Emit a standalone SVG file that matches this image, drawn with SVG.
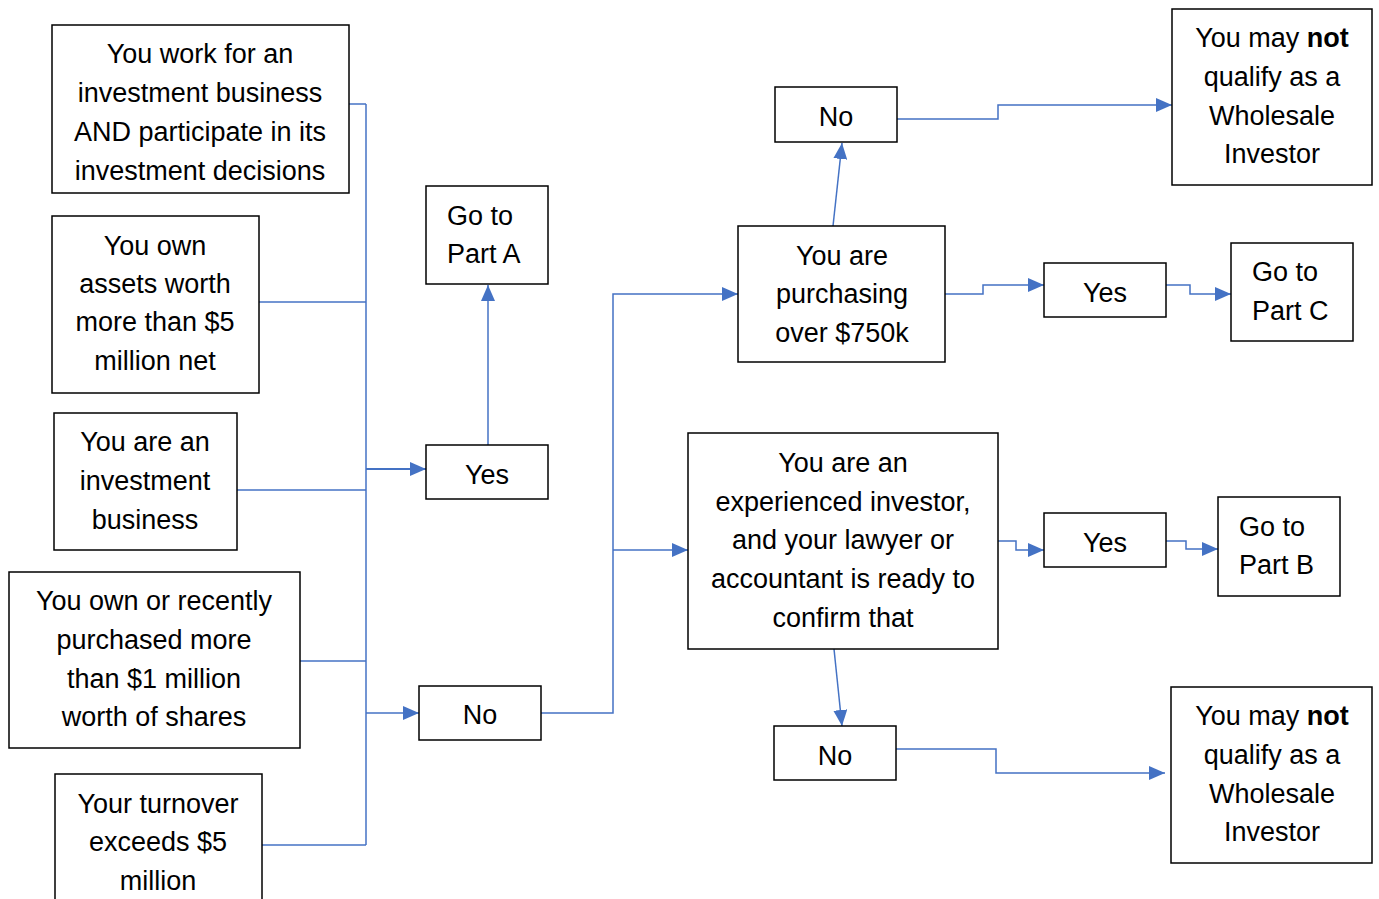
<svg xmlns="http://www.w3.org/2000/svg" width="1379" height="899" viewBox="0 0 1379 899">
<style>
.b{fill:#fff;stroke:#000;stroke-width:1.5}
.t{font-family:"Liberation Sans",Arial,sans-serif;font-size:27px;fill:#000;text-anchor:middle}
.s{text-anchor:start}
.c{fill:none;stroke:#4472C4;stroke-width:1.5}
</style>
<defs>
<marker id="a" viewBox="0 0 16 14" refX="16" refY="7" markerWidth="16" markerHeight="14" markerUnits="userSpaceOnUse" orient="auto">
<path d="M0,0L16,7L0,14z" fill="#4472C4"/>
</marker>
</defs>
<rect width="1379" height="899" fill="#fff"/>
<g id="connectors">
<path class="c" d="M366,104V845"/>
<path class="c" d="M349,104H366"/>
<path class="c" d="M259,302H366"/>
<path class="c" d="M237,490H366"/>
<path class="c" d="M300,661H366"/>
<path class="c" d="M262,845H366"/>
<path class="c" d="M366,469H426" marker-end="url(#a)" style="stroke-width:2"/>
<path class="c" d="M366,713H419" marker-end="url(#a)"/>
<path class="c" d="M488,445V285" marker-end="url(#a)"/>
<path class="c" d="M541,713H613V294H738" marker-end="url(#a)"/>
<path class="c" d="M613,550H688" marker-end="url(#a)"/>
<path class="c" d="M833,226L842,143" marker-end="url(#a)"/>
<path class="c" d="M897,119H998V105H1172" marker-end="url(#a)"/>
<path class="c" d="M945,294H983V285H1044" marker-end="url(#a)"/>
<path class="c" d="M1166,285H1190V294H1231" marker-end="url(#a)"/>
<path class="c" d="M998,541H1016V550H1044" marker-end="url(#a)"/>
<path class="c" d="M1166,541H1186V549H1218" marker-end="url(#a)"/>
<path class="c" d="M834,649L842,726" marker-end="url(#a)"/>
<path class="c" d="M896,749H996V773H1165" marker-end="url(#a)"/>
</g>
<g id="n1"><rect class="b" x="52" y="25" width="297" height="168"/>
<text class="t" x="200" y="63">You work for an</text><text class="t" x="200" y="102">investment business</text><text class="t" x="200" y="141">AND participate in its</text><text class="t" x="200" y="180">investment decisions</text></g>
<g id="n2"><rect class="b" x="52" y="216" width="207" height="177"/>
<text class="t" x="155" y="255">You own</text><text class="t" x="155" y="293">assets worth</text><text class="t" x="155" y="331">more than $5</text><text class="t" x="155" y="370">million net</text></g>
<g id="n3"><rect class="b" x="54" y="413" width="183" height="137"/>
<text class="t" x="145" y="451">You are an</text><text class="t" x="145" y="490">investment</text><text class="t" x="145" y="529">business</text></g>
<g id="n4"><rect class="b" x="9" y="572" width="291" height="176"/>
<text class="t" x="154" y="610">You own or recently</text><text class="t" x="154" y="649">purchased more</text><text class="t" x="154" y="688">than $1 million</text><text class="t" x="154" y="726">worth of shares</text></g>
<g id="n5"><rect class="b" x="55" y="774" width="207" height="140"/>
<text class="t" x="158" y="813">Your turnover</text><text class="t" x="158" y="851">exceeds $5</text><text class="t" x="158" y="890">million</text></g>
<g id="n6"><rect class="b" x="426" y="186" width="122" height="98"/>
<text class="t s" x="447" y="225">Go to</text><text class="t s" x="447" y="263">Part A</text></g>
<g id="n7"><rect class="b" x="426" y="445" width="122" height="54"/>
<text class="t" x="487" y="484">Yes</text></g>
<g id="n8"><rect class="b" x="419" y="686" width="122" height="54"/>
<text class="t" x="480" y="724">No</text></g>
<g id="n9"><rect class="b" x="738" y="226" width="207" height="136"/>
<text class="t" x="842" y="265">You are</text><text class="t" x="842" y="303">purchasing</text><text class="t" x="842" y="342">over $750k</text></g>
<g id="n10"><rect class="b" x="775" y="87" width="122" height="55"/>
<text class="t" x="836" y="126">No</text></g>
<g id="n11"><rect class="b" x="1172" y="9" width="200" height="176"/>
<text class="t" x="1272" y="47">You may <tspan font-weight="bold">not</tspan></text><text class="t" x="1272" y="86">qualify as a</text><text class="t" x="1272" y="125">Wholesale</text><text class="t" x="1272" y="163">Investor</text></g>
<g id="n12"><rect class="b" x="1044" y="263" width="122" height="54"/>
<text class="t" x="1105" y="302">Yes</text></g>
<g id="n13"><rect class="b" x="1231" y="243" width="122" height="98"/>
<text class="t s" x="1252" y="281">Go to</text><text class="t s" x="1252" y="320">Part C</text></g>
<g id="n14"><rect class="b" x="688" y="433" width="310" height="216"/>
<text class="t" x="843" y="472">You are an</text><text class="t" x="843" y="511">experienced investor,</text><text class="t" x="843" y="549">and your lawyer or</text><text class="t" x="843" y="588">accountant is ready to</text><text class="t" x="843" y="627">confirm that</text></g>
<g id="n15"><rect class="b" x="1044" y="513" width="122" height="54"/>
<text class="t" x="1105" y="552">Yes</text></g>
<g id="n16"><rect class="b" x="1218" y="497" width="122" height="99"/>
<text class="t s" x="1239" y="536">Go to</text><text class="t s" x="1239" y="574">Part B</text></g>
<g id="n17"><rect class="b" x="774" y="726" width="122" height="54"/>
<text class="t" x="835" y="765">No</text></g>
<g id="n18"><rect class="b" x="1171" y="687" width="201" height="176"/>
<text class="t" x="1272" y="725">You may <tspan font-weight="bold">not</tspan></text><text class="t" x="1272" y="764">qualify as a</text><text class="t" x="1272" y="803">Wholesale</text><text class="t" x="1272" y="841">Investor</text></g>
</svg>
